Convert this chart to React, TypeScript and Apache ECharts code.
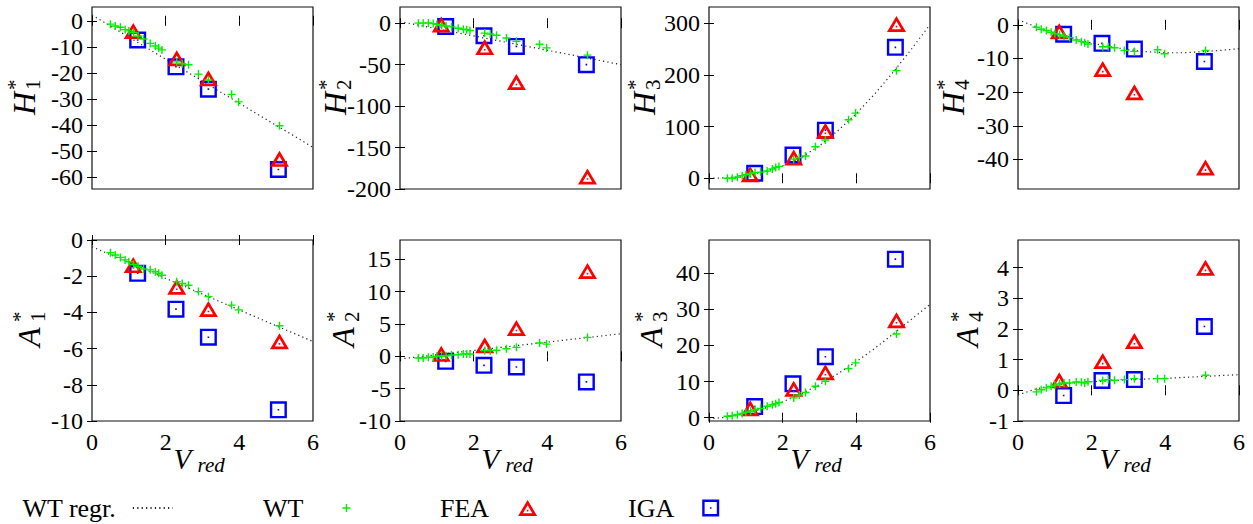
import React, { useEffect, useRef } from "react";
import * as echarts from "echarts";

const FONT = "Liberation Serif";

// ---------- data ----------
const xTicks = [0, 2, 4, 6];
const wtX = [0.5, 0.63, 0.77, 0.9, 1.0, 1.13, 1.25, 1.4, 1.58, 1.72, 1.81, 1.9, 2.3, 2.45, 2.62, 2.89, 3.16, 3.79, 3.98, 5.09];
const feaX = [1.12, 2.3, 3.16, 5.09];
const igaX = [1.24, 2.28, 3.16, 5.06];
const regrX = [0, 0.5, 1, 1.5, 2, 2.5, 3, 3.5, 4, 4.5, 5, 5.5, 6];

const h1WT = [-1.3, -2.0, -2.5, -3.4, -3.9, -4.6, -5.9, -7.0, -8.7, -9.7, -10.5, -11.2, -15.8, -16.5, -16.9, -20.5, -22.8, -28.3, -31.2, -40.4];
const h1FEA = [-4.9, -15.4, -23.1, -54.1];
const h1IGA = [-7.4, -17.7, -26.3, -57.2];
const h1Regr = [2.2, -2.0, -6.3, -10.5, -14.8, -19.0, -23.2, -27.5, -31.7, -36.0, -40.2, -44.4, -48.7];
const h1Ticks = [0, -10, -20, -30, -40, -50, -60];

const h2WT = [0, 0, 0.3, -0.5, -1.5, -2.5, -3.5, -4.5, -6.2, -7.4, -8.0, -8.8, -12.0, -13.0, -14.5, -17.9, -21.9, -25.5, -29.8, -38.6];
const h2FEA = [-4.8, -32, -74, -188];
const h2IGA = [-4.0, -15.2, -28, -50];
const h2Regr = [1.9, -2.4, -6.8, -11.1, -15.4, -19.7, -24.0, -28.4, -32.7, -37.0, -41.3, -45.7, -50.0];
const h2Ticks = [0, -50, -100, -150, -200];

const h3WT = [0, 0, 2, 5, 7, 9, 11, 12, 14, 18, 21, 23, 37, 40, 43, 61, 74, 113, 126, 208];
const h3FEA = [3, 35, 87, 293];
const h3IGA = [9.7, 45, 93, 253];
const h3Regr = [0, 1, 5, 13, 24, 40, 63, 92, 125, 163, 205, 250, 297];
const h3Ticks = [0, 100, 200, 300];

const h4WT = [-0.7, -1.3, -1.7, -2.2, -2.6, -3.0, -3.3, -3.8, -4.5, -5.0, -5.3, -5.7, -6.5, -6.5, -6.8, -7.6, -7.9, -7.4, -8.6, -7.6];
const h4FEA = [-2.7, -13.9, -20.8, -43.2];
const h4IGA = [-2.8, -5.5, -7.2, -10.9];
const h4Regr = [1.5, -0.6, -2.5, -4.0, -5.4, -6.5, -7.4, -8.0, -8.3, -8.3, -8.0, -7.6, -7.1];
const h4Ticks = [0, -10, -20, -30, -40];

const a1WT = [-0.7, -0.83, -0.96, -1.1, -1.2, -1.35, -1.45, -1.6, -1.65, -1.75, -1.84, -1.95, -2.3, -2.4, -2.5, -2.85, -3.13, -3.6, -3.86, -4.74];
const a1FEA = [-1.53, -2.72, -3.95, -5.74];
const a1IGA = [-1.84, -3.82, -5.37, -9.38];
const a1Regr = [-0.37, -0.81, -1.24, -1.68, -2.12, -2.55, -2.99, -3.43, -3.86, -4.3, -4.74, -5.17, -5.61];
const a1Ticks = [0, -2, -4, -6, -8, -10];

const a2WT = [-0.25, -0.25, -0.15, -0.1, 0, 0.05, 0.1, 0.2, 0.26, 0.36, 0.36, 0.36, 0.9, 0.88, 0.95, 1.18, 1.39, 2.06, 1.9, 2.93];
const a2FEA = [0.0, 1.3, 4.0, 12.8];
const a2IGA = [-0.77, -1.39, -1.64, -3.95];
const a2Regr = [-0.4, -0.08, 0.25, 0.58, 0.9, 1.23, 1.55, 1.88, 2.2, 2.53, 2.85, 3.18, 3.5];
const a2Ticks = [-10, -5, 0, 5, 10, 15];

const a3WT = [0.4, 0.55, 0.85, 1.2, 1.5, 1.8, 2.2, 2.6, 3.2, 3.6, 3.9, 4.2, 5.5, 6.3, 7.0, 8.7, 10.1, 13.6, 15.2, 23.2];
const a3FEA = [1.93, 7.3, 11.9, 26.3];
const a3IGA = [3.1, 9.4, 16.9, 43.9];
const a3Regr = [-0.3, 0.2, 1.2, 2.6, 4.4, 6.6, 9.2, 12.2, 15.5, 19.2, 23.2, 27.3, 31.4];
const a3Ticks = [0, 10, 20, 30, 40];

const a4WT = [-0.05, 0.02, 0.08, 0.13, 0.17, 0.21, 0.24, 0.24, 0.27, 0.26, 0.24, 0.28, 0.32, 0.35, 0.33, 0.35, 0.38, 0.38, 0.38, 0.49];
const a4FEA = [0.24, 0.87, 1.52, 3.91];
const a4IGA = [-0.17, 0.32, 0.35, 2.08];
const a4Regr = [-0.15, 0.05, 0.17, 0.24, 0.28, 0.31, 0.34, 0.37, 0.39, 0.42, 0.45, 0.48, 0.51];
const a4Ticks = [-1, 0, 1, 2, 3, 4];

const panels = [
  { label: "H", sub: "1", wt: h1WT, fea: h1FEA, iga: h1IGA, regr: h1Regr, yMin: -64.7, yMax: 5.3, yTicks: h1Ticks },
  { label: "H", sub: "2", wt: h2WT, fea: h2FEA, iga: h2IGA, regr: h2Regr, yMin: -200, yMax: 19.5, yTicks: h2Ticks },
  { label: "H", sub: "3", wt: h3WT, fea: h3FEA, iga: h3IGA, regr: h3Regr, yMin: -20.7, yMax: 331, yTicks: h3Ticks },
  { label: "H", sub: "4", wt: h4WT, fea: h4FEA, iga: h4IGA, regr: h4Regr, yMin: -48.8, yMax: 5.3, yTicks: h4Ticks },
  { label: "A", sub: "1", wt: a1WT, fea: a1FEA, iga: a1IGA, regr: a1Regr, yMin: -10, yMax: 0, yTicks: a1Ticks },
  { label: "A", sub: "2", wt: a2WT, fea: a2FEA, iga: a2IGA, regr: a2Regr, yMin: -10, yMax: 18, yTicks: a2Ticks },
  { label: "A", sub: "3", wt: a3WT, fea: a3FEA, iga: a3IGA, regr: a3Regr, yMin: -0.9, yMax: 49.2, yTicks: a3Ticks },
  { label: "A", sub: "4", wt: a4WT, fea: a4FEA, iga: a4IGA, regr: a4Regr, yMin: -1, yMax: 4.9, yTicks: a4Ticks },
];

// ---------- layout & styles ----------
const gridLefts = [92, 400, 709, 1018];
const gridWidth = 221;
const rowTops = [7, 240];
const rowHeights = [182, 181];
const yLabelPos = [
  [24, 115], [334.5, 115], [644, 115], [952.5, 115],
  [29, 347], [342.5, 347], [651, 347], [967, 347],
];

const plusPath = "path://M3.3 0L4.7 0L4.7 3.3L8 3.3L8 4.7L4.7 4.7L4.7 8L3.3 8L3.3 4.7L0 4.7L0 3.3L3.3 3.3Z";
const triPath = "path://M9.5 0L19 16L0 16Z M9.5 5.3L4.85 13.3L14.15 13.3Z M8.7 9.8L10.3 9.8L10.3 11.4L8.7 11.4Z";
const sqPath = "path://M0 0L17 0L17 17L0 17Z M2.4 2.4L2.4 14.6L14.6 14.6L14.6 2.4Z M7.7 7.7L9.3 7.7L9.3 9.3L7.7 9.3Z";

const GREEN = "#00f000";
const RED = "#ff0000";
const BLUE = "#0000ff";

function buildOption() {
  const grid: any[] = [];
  const xAxis: any[] = [];
  const yAxis: any[] = [];
  const series: any[] = [];
  const graphic: any[] = [];

  panels.forEach((p, i) => {
    const row = i < 4 ? 0 : 1;
    const col = i % 4;
    grid.push({
      left: gridLefts[col],
      top: rowTops[row],
      width: gridWidth,
      height: rowHeights[row],
      show: true,
      borderColor: "#111",
      borderWidth: 1.2,
      backgroundColor: "transparent",
      containLabel: false,
    });
    const tick = { show: true, inside: true, length: 5, lineStyle: { color: "#000", width: 1 } };
    xAxis.push({
      gridIndex: i, type: "value", min: 0, max: 6, interval: 2, position: "bottom",
      axisLine: { show: false }, axisTick: tick, splitLine: { show: false },
      axisLabel: { show: row === 1, margin: 9, fontSize: 24, color: "#000", fontFamily: FONT },
    });
    xAxis.push({
      gridIndex: i, type: "value", min: 0, max: 6, interval: 2, position: "top",
      axisLine: { show: false }, axisTick: tick, splitLine: { show: false },
      axisLabel: { show: false },
    });
    yAxis.push({
      gridIndex: i, type: "value", min: p.yMin, max: p.yMax, position: "left",
      axisLine: { show: false },
      axisTick: { ...tick, customValues: p.yTicks },
      splitLine: { show: false },
      axisLabel: { customValues: p.yTicks, margin: 9, fontSize: 24, color: "#000", fontFamily: FONT },
    });
    yAxis.push({
      gridIndex: i, type: "value", min: p.yMin, max: p.yMax, position: "right",
      axisLine: { show: false },
      axisTick: { ...tick, customValues: p.yTicks },
      splitLine: { show: false },
      axisLabel: { show: false },
    });
    const xi = 2 * i;
    const yi = 2 * i;
    series.push({
      type: "line", name: "WT regr.", xAxisIndex: xi, yAxisIndex: yi,
      data: regrX.map((x, k) => [x, p.regr[k]]),
      symbol: "none", silent: true, z: 2,
      lineStyle: { color: "#222", width: 1.2, type: [1.2, 3.2] },
    });
    series.push({
      type: "scatter", name: "IGA", xAxisIndex: xi, yAxisIndex: yi,
      data: igaX.map((x, k) => [x, p.iga[k]]),
      symbol: sqPath, symbolSize: [17, 17], z: 3,
      itemStyle: { color: BLUE, borderWidth: 0, opacity: 1 },
    });
    series.push({
      type: "scatter", name: "FEA", xAxisIndex: xi, yAxisIndex: yi,
      data: feaX.map((x, k) => [x, p.fea[k]]),
      symbol: triPath, symbolSize: [19, 16], symbolOffset: [0, -2.6], z: 4,
      itemStyle: { color: RED, borderWidth: 0, opacity: 1 },
    });
    series.push({
      type: "scatter", name: "WT", xAxisIndex: xi, yAxisIndex: yi,
      data: wtX.map((x, k) => [x, p.wt[k]]),
      symbol: plusPath, symbolSize: [8, 8], z: 5,
      itemStyle: { color: GREEN, borderWidth: 0, opacity: 1 },
    });

    // y-axis title: italic letter with stacked superscript * and subscript index
    const [bx, by] = yLabelPos[i];
    graphic.push({
      type: "group", x: bx, y: by, rotation: Math.PI / 2,
      children: [
        { type: "text", x: 0, y: 0, style: { text: p.label, fontSize: 32, fontStyle: "italic", fontFamily: FONT, fill: "#000", align: "left", verticalAlign: "middle" } },
        { type: "text", x: 25, y: -9, style: { text: "*", fontSize: 21, fontFamily: FONT, fill: "#000", align: "left", verticalAlign: "middle" } },
        { type: "text", x: 25, y: 9, style: { text: p.sub, fontSize: 21, fontFamily: FONT, fill: "#000", align: "left", verticalAlign: "middle" } },
      ],
    });
    if (row === 1) {
      const gc = gridLefts[col] + gridWidth / 2;
      graphic.push({ type: "text", x: gc - 29, y: 459, style: { text: "V", fontSize: 29, fontStyle: "italic", fontFamily: FONT, fill: "#000", align: "left", verticalAlign: "middle" } });
      graphic.push({ type: "text", x: gc - 5, y: 465, style: { text: "red", fontSize: 21, fontStyle: "italic", fontFamily: FONT, fill: "#000", align: "left", verticalAlign: "middle" } });
    }
  });

  const legendText = (pad: number) => ({ fontSize: 26, fontFamily: FONT, color: "#000", padding: [0, pad, 0, 0] });
  const legend = [
    { data: ["WT regr."], left: 17, top: 490, align: "right", itemWidth: 40, itemHeight: 8, textStyle: legendText(12), selectedMode: false, itemStyle: { color: "rgba(0,0,0,0)", borderWidth: 0 } },
    { data: ["WT"], left: 258, top: 490, align: "right", itemWidth: 8, itemHeight: 8, textStyle: legendText(34), selectedMode: false, itemStyle: { borderWidth: 0 } },
    { data: ["FEA"], left: 435, top: 490, align: "right", itemWidth: 19, itemHeight: 16, textStyle: legendText(24), selectedMode: false, itemStyle: { borderWidth: 0 } },
    { data: ["IGA"], left: 623, top: 490, align: "right", itemWidth: 17, itemHeight: 17, textStyle: legendText(23), selectedMode: false, itemStyle: { borderWidth: 0 } },
  ];

  return {
    animation: false,
    backgroundColor: "#fff",
    textStyle: { fontFamily: FONT },
    grid, xAxis, yAxis, series, legend, graphic,
  };
}

export default function App() {
  const ref = useRef<HTMLDivElement>(null);
  useEffect(() => {
    if (!ref.current) return;
    const chart = echarts.init(ref.current, undefined, { renderer: "svg" });
    chart.setOption(buildOption() as any);
    return () => chart.dispose();
  }, []);
  return (
    <div
      ref={ref}
      style={{ position: "fixed", left: 0, top: 0, width: 1253, height: 524, background: "#fff" }}
    />
  );
}
